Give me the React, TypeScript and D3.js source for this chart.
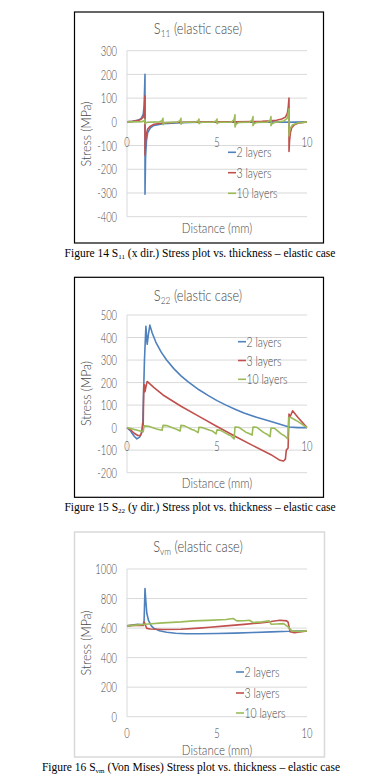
import React from 'react';
import * as d3 from 'd3';

// ---------- DATA ----------
const seriesNames = ['2 layers', '3 layers', '10 layers'];
const xTicks = [0, 5, 10];

// Chart 1: S11
const s11Ticks = [300, 200, 100, 0, -100, -200, -300, -400];
const s11X2 = [0, 0.3, 0.5, 0.7, 0.8, 0.9, 0.95, 1.0, 1.0, 1.03, 1.08, 1.15, 1.3, 1.5, 2, 3, 4, 5, 6, 7, 8, 8.5, 9, 9.5, 10];
const s11Y2 = [0, 2, 5, 10, 16, 32, 65, 200, -305, -150, -80, -45, -25, -15, -8, -4, -2, -1, -1, -1, -1, -1, -2, -1, 0];
const s11X3 = [0, 0.3, 0.5, 0.7, 0.8, 0.9, 0.95, 1.0, 1.0, 1.03, 1.08, 1.15, 1.3, 1.5, 2, 3, 4, 5, 6, 7, 7.5, 8, 8.3, 8.6, 8.8, 8.9, 8.95, 9.0, 9.0, 9.03, 9.08, 9.15, 9.3, 9.5, 10];
const s11Y3 = [0, 2, 4, 8, 12, 20, 40, 110, -140, -80, -50, -30, -18, -10, -5, -2, -1, 0, 0, 1, 2, 4, 7, 12, 20, 35, 55, 100, -125, -80, -45, -25, -12, -6, 0];
const s11X10 = [0, 0.8, 0.95, 1.0, 1.0, 1.05, 1.2, 1.8, 1.95, 2.0, 2.0, 2.05, 2.2, 2.8, 2.95, 3.0, 3.0, 3.05, 3.2, 3.8, 3.95, 4.0, 4.0, 4.05, 4.2, 4.8, 4.95, 5.0, 5.0, 5.05, 5.2, 5.8, 5.95, 6.0, 6.0, 6.05, 6.2, 6.8, 6.95, 7.0, 7.0, 7.05, 7.2, 7.8, 7.95, 8.0, 8.0, 8.05, 8.2, 8.7, 8.9, 9.0, 9.0, 9.05, 9.2, 9.5, 10];
const s11Y10 = [0, 1, 4, 10, -8, -4, -2, 0, 5, 15, -12, -6, -3, -1, 5, 15, -10, -5, -2, -1, 4, 12, -8, -4, -2, -1, 4, 12, -8, -4, -2, -1, 10, 30, -22, -10, -3, -1, 7, 22, -16, -8, -3, -1, 7, 22, -16, -8, -3, 3, 15, 55, -60, -30, -12, -5, 0];

// Chart 2: S22
const s22Ticks = [500, 400, 300, 200, 100, 0, -100, -200];
const s22X2 = [0, 0.2, 0.4, 0.55, 0.7, 0.8, 0.87, 0.92, 0.97, 1.05, 1.12, 1.2, 1.27, 1.4, 1.6, 1.9, 2.2, 2.6, 3.0, 3.4, 4.0, 4.5, 5.0, 5.5, 6.0, 6.5, 7.2, 8.0, 8.5, 9.0, 9.5, 10];
const s22Y2 = [0, -15, -38, -50, -42, -25, 0, 150, 300, 450, 370, 420, 455, 420, 380, 335, 300, 262, 230, 203, 168, 143, 120, 100, 82, 65, 46, 27, 15, 3, 0, 0];
const s22X3 = [0, 0.2, 0.4, 0.6, 0.75, 0.82, 0.87, 0.9, 0.93, 0.97, 1.0, 1.05, 1.12, 1.5, 2, 3, 4, 5, 6, 7, 8, 8.5, 8.7, 8.8, 8.85, 8.9, 8.95, 9.0, 9.05, 9.1, 9.2, 9.5, 10];
const s22Y3 = [0, -10, -25, -35, -35, -20, 20, 10, 180, 190, 160, 180, 205, 178, 145, 95, 50, 5, -38, -80, -120, -145, -148, -140, -100, -95, -90, 60, 50, 55, 75, 45, 0];
const s22X10 = [0, 0.9, 0.95, 1.2, 1.6, 1.75, 1.95, 2.0, 2.2, 2.6, 2.75, 2.95, 3.0, 3.2, 3.6, 3.75, 3.95, 4.0, 4.2, 4.6, 4.75, 4.95, 5.0, 5.2, 5.6, 5.75, 5.95, 6.0, 6.2, 6.6, 6.75, 6.95, 7.0, 7.2, 7.6, 7.75, 7.95, 8.0, 8.2, 8.6, 8.75, 8.93, 8.98, 9.1, 9.4, 10];
const s22Y10 = [0, -18, 8, 6, -5, -8, -12, 10, 9, -3, -7, -15, 10, 8, -8, -12, -22, 2, 0, -12, -15, -28, -10, -12, -30, -35, -50, 3, 2, -20, -25, -33, 3, 2, -22, -28, -40, -2, -3, -30, -36, -50, 45, 45, 32, 0];

// Chart 3: Svm
const svmTicks = [1000, 800, 600, 400, 200, 0];
const svmX2 = [0, 0.3, 0.6, 0.9, 0.95, 1.0, 1.05, 1.1, 1.2, 1.35, 1.5, 1.8, 2.2, 2.7, 3.3, 4, 5, 6, 7, 8, 9, 9.1, 9.5, 10];
const svmY2 = [615, 620, 625, 622, 650, 868, 780, 700, 650, 615, 598, 582, 572, 565, 562, 562, 563, 566, 570, 574, 579, 580, 580, 581];
const svmX3 = [0, 0.5, 0.9, 0.97, 1.0, 1.1, 1.3, 2, 3, 4, 4.6, 5.5, 6.5, 7.4, 8, 8.5, 8.87, 8.95, 9.06, 9.3, 9.6, 10];
const svmY3 = [615, 620, 618, 640, 625, 598, 594, 590, 592, 600, 606, 615, 625, 635, 644, 653, 649, 640, 575, 568, 573, 581];
const svmX10 = [0, 0.5, 1.0, 2.0, 3.0, 3.7, 4.5, 5.5, 5.9, 6.1, 6.5, 6.8, 7.0, 7.5, 7.9, 8.0, 8.3, 8.7, 8.95, 9.15, 9.5, 10];
const svmY10 = [615, 620, 626, 635, 642, 649, 652, 658, 665, 649, 650, 653, 638, 642, 649, 626, 628, 630, 608, 581, 578, 581];

// ---------- STYLE ----------
const COLORS = ['#4F81BD', '#C0504D', '#9BBB59'];
const GRID = '#d9d9d9';
const TXT = '#474747';
const FONT = "Lato, 'Open Sans', sans-serif";
const SERIF = "'Liberation Serif', 'Times New Roman', serif";

function Txt(props: any) {
  const { x, y, children, anchor = 'middle', size = 12, rot = 0, fill = TXT, sx = 0.8, family = FONT, baseline } = props;
  return (
    <text
      transform={`translate(${x},${y})${rot ? ` rotate(${rot})` : ''} scale(${sx},1)`}
      textAnchor={anchor}
      fontSize={size}
      fontFamily={family}
      fontWeight={300}
      fill={fill}
      dominantBaseline={baseline}
    >
      {children}
    </text>
  );
}

const X0 = 127;
const X1 = 307;

function Chart(props: any) {
  const c = props.cfg;
  const xs = d3.scaleLinear().domain([0, 10]).range([X0, X1]);
  const ys = d3.scaleLinear().domain(c.yDomain).range(c.yRange);
  const line = (xa: number[], ya: number[]) =>
    d3.line<number>().x((i) => xs(xa[i])).y((i) => ys(ya[i]))(d3.range(xa.length)) || '';
  const yTop = ys(c.yDomain[1]);
  const yBot = ys(c.yDomain[0]);
  return (
    <g>
      <rect x={c.frame[0]} y={c.frame[1]} width={c.frame[2] - c.frame[0]} height={c.frame[3] - c.frame[1]}
        fill="#fff" stroke={c.frameStroke} strokeWidth={c.frameWidth} />
      {c.ticks.map((t: number) => (
        <line key={'g' + t} x1={X0} x2={X1} y1={ys(t)} y2={ys(t)} stroke={GRID} strokeWidth={1} />
      ))}
      <line x1={X0} x2={X0} y1={yTop} y2={yBot} stroke={GRID} strokeWidth={1} />
      {c.ticks.map((t: number) => (
        <Txt key={'t' + t} x={117} y={ys(t)} anchor="end" size={13} sx={0.72} baseline="central">{String(t)}</Txt>
      ))}
      {xTicks.map((t) => (
        <Txt key={'x' + t} x={xs(t)} y={c.xTickY} size={13} sx={0.72} baseline="central">{String(t)}</Txt>
      ))}
      {c.series.map((s: any, i: number) => (
        <path key={'s' + i} d={line(s[0], s[1])} fill="none" stroke={COLORS[i]} strokeWidth={1.6} strokeLinejoin="round" />
      ))}
      <text transform={`translate(${c.titleX},${c.titleY}) scale(0.8,1)`} textAnchor="middle" fontFamily={FONT} fontWeight={300} fontSize={16} fill={TXT}>
        S<tspan fontSize={10.5} dy={3}>{c.sub}</tspan><tspan dy={-3}> (elastic case)</tspan>
      </text>
      <Txt x={86} y={c.ylabelY} rot={-90} size={14} sx={0.88} baseline="central">Stress (MPa)</Txt>
      <Txt x={217} y={c.xlabelY} size={14} sx={0.82}>Distance (mm)</Txt>
      {seriesNames.map((n, i) => (
        <g key={'l' + i}>
          <line x1={c.legendX} x2={c.legendX + 8} y1={c.legendYs[i]} y2={c.legendYs[i]} stroke={COLORS[i]} strokeWidth={1.6} />
          <Txt x={c.legendX + 8.5} y={c.legendYs[i]} anchor="start" size={14} sx={0.75} baseline="central">{n}</Txt>
        </g>
      ))}
      <text x={c.captionX} y={c.captionY} textAnchor="middle" fontFamily={SERIF} fontSize={11.5} fill="#000">
        {`Figure ${c.fig} S`}<tspan fontSize={7} dy={1.5}>{c.sub}</tspan><tspan dy={-1.5}>{c.caption}</tspan>
      </text>
    </g>
  );
}

const charts = [
  {
    frame: [74.5, 12, 323.5, 243], frameStroke: '#000', frameWidth: 1.2,
    yDomain: [-400, 300], yRange: [216.7, 50.7], ticks: s11Ticks, xTickY: 142,
    titleX: 198, titleY: 34, sub: '11', ylabelY: 134, xlabelY: 233,
    legendX: 228, legendYs: [152.3, 172.7, 193.3],
    series: [[s11X2, s11Y2], [s11X3, s11Y3], [s11X10, s11Y10]],
    fig: 14, caption: ' (x dir.) Stress plot vs. thickness \u2013 elastic case', captionX: 200, captionY: 257,
  },
  {
    frame: [74.5, 277.3, 323.5, 497.3], frameStroke: '#000', frameWidth: 1.2,
    yDomain: [-200, 500], yRange: [472.7, 315], ticks: s22Ticks, xTickY: 446,
    titleX: 198, titleY: 301, sub: '22', ylabelY: 393.5, xlabelY: 488,
    legendX: 238, legendYs: [341.7, 360.5, 379.3],
    series: [[s22X2, s22Y2], [s22X3, s22Y3], [s22X10, s22Y10]],
    fig: 15, caption: ' (y dir.) Stress plot vs. thickness \u2013 elastic case', captionX: 200, captionY: 511,
  },
  {
    frame: [74.5, 532, 324.5, 757], frameStroke: '#d9d9d9', frameWidth: 1.5,
    yDomain: [0, 1000], yRange: [716.7, 569], ticks: svmTicks, xTickY: 733,
    titleX: 198, titleY: 552, sub: 'vm', ylabelY: 643, xlabelY: 755,
    legendX: 236, legendYs: [672, 693, 713],
    series: [[svmX2, svmY2], [svmX3, svmY3], [svmX10, svmY10]],
    fig: 16, caption: ' (Von Mises) Stress plot vs. thickness \u2013 elastic case', captionX: 191, captionY: 771,
  },
];

export default function App() {
  return (
    <svg width={380} height={779} viewBox="0 0 380 779" style={{ position: 'absolute', left: 0, top: 0, background: '#fff' }}>
      <rect x={0} y={0} width={380} height={779} fill="#fff" />
      {charts.map((c, i) => <Chart key={i} cfg={c} />)}
    </svg>
  );
}
